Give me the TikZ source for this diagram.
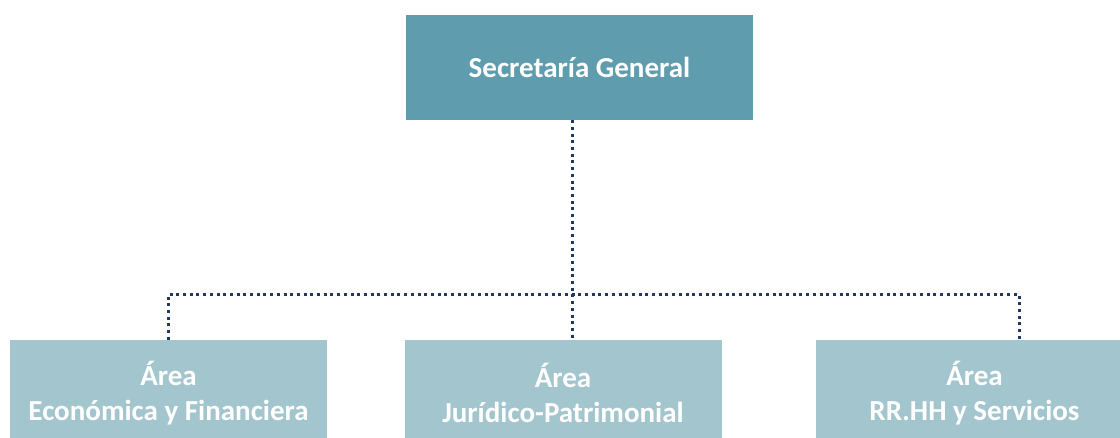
\documentclass[tikz,border=0pt]{standalone}
\usepackage{fontspec}
\setmainfont{Carlito}
\definecolor{colorjefe}{HTML}{5F9DAE}
\definecolor{colorarea}{HTML}{A3C5CE}
\definecolor{colorenlace}{HTML}{203864}
\tikzstyle{every node}=[font=\fontsize{29}{35}\selectfont\bfseries,text=white,align=center,inner sep=0pt]
\tikzstyle{jefe}=[fill=colorjefe,minimum width=347pt,minimum height=105pt]
\tikzstyle{area}=[fill=colorarea,minimum width=317pt,minimum height=106pt]
\tikzstyle{enlace}=[draw=colorenlace,line width=3pt,dash pattern=on 3pt off 3.7pt]

\begin{document}
\begin{tikzpicture}[x=1pt,y=-1pt]
    \useasboundingbox (0,0) rectangle (1120,437);
    \node[jefe] (sg) at (579.5,67.5) {Secretaría General};
    \node[area] (eco) at (168.5,393) {Área\\Económica y Financiera};
    \node[area] (jur) at (563,393) {Área\\Jurídico-Patrimonial};
    \node[area] (rrhh) at (974.5,393) {Área\\RR.HH y Servicios};
    \coordinate (bus) at (572,294);
    \draw[enlace] ([xshift=-7.5pt]sg.south) -- ([xshift=9pt]jur.north);
    \draw[enlace] (eco.north) |- (bus) -| ([xshift=44.5pt]rrhh.north);
\end{tikzpicture}
\end{document}
